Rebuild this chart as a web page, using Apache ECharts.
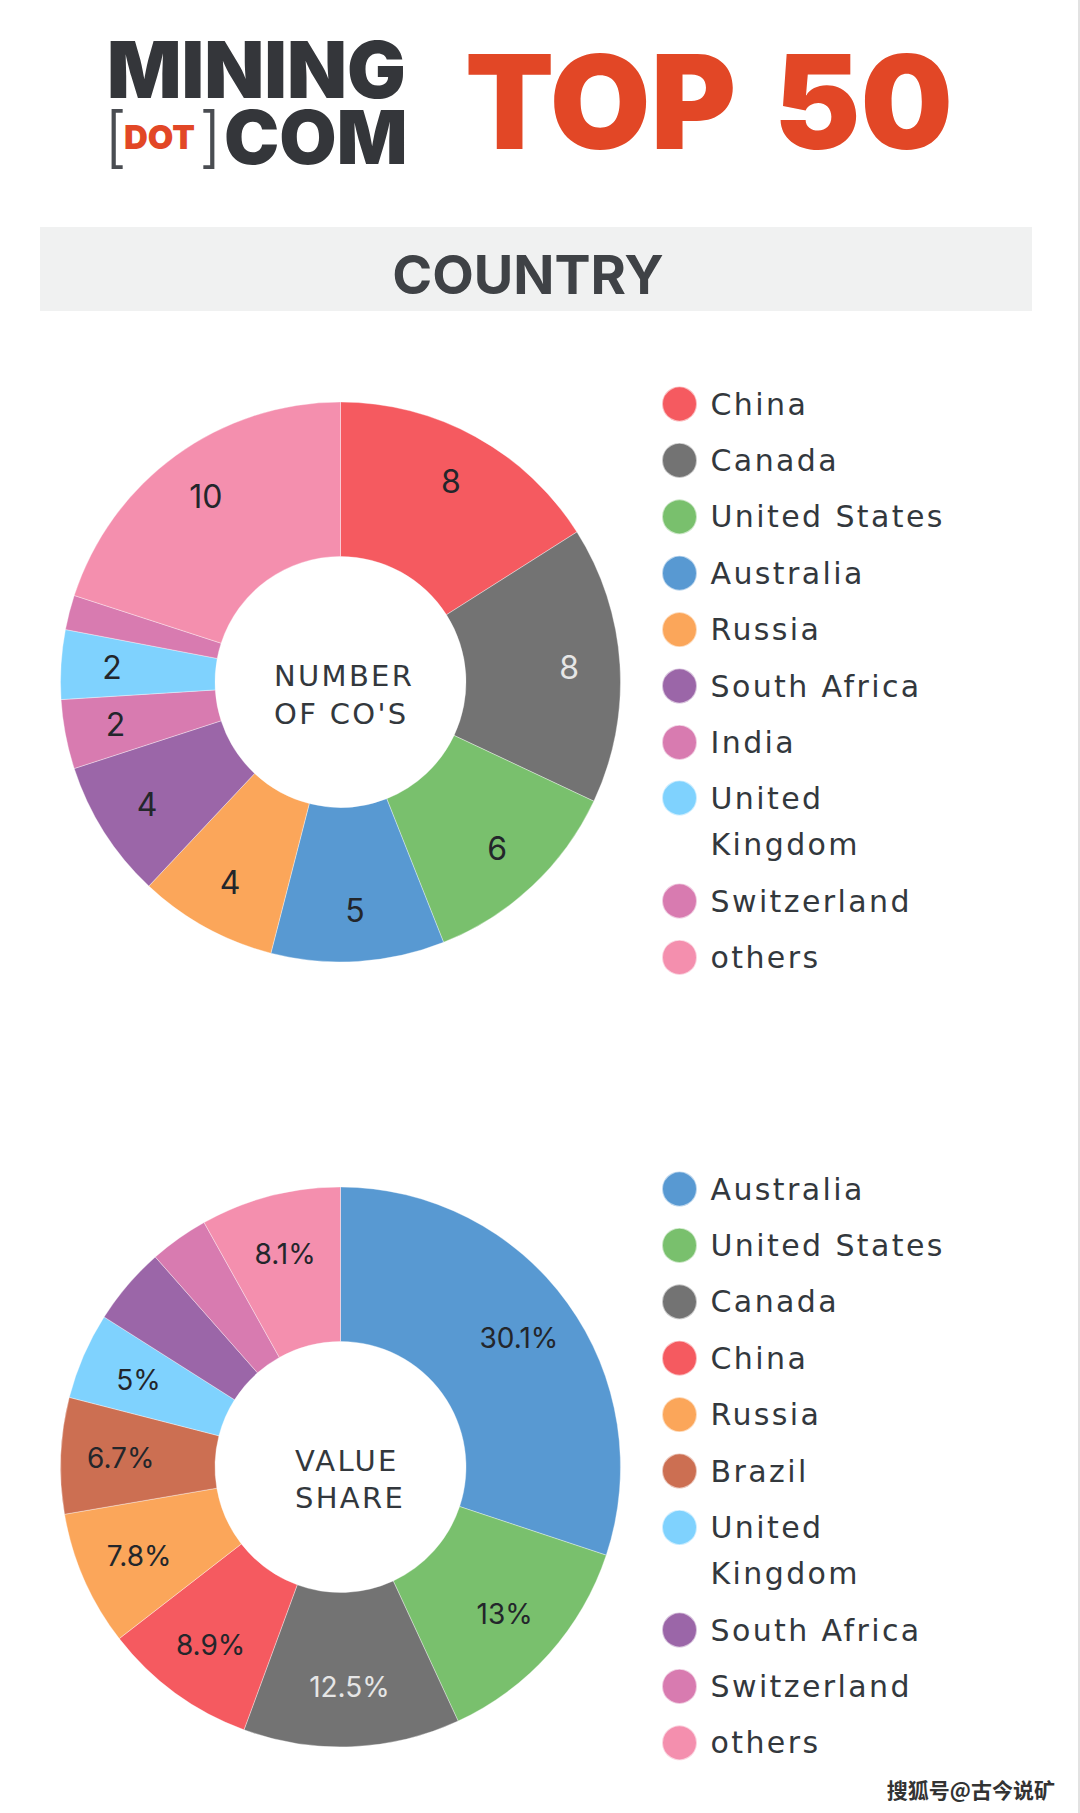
<!DOCTYPE html>
<html>
<head>
<meta charset="utf-8">
<title>Mining.com Top 50 - Country</title>
<style>
  html, body { margin: 0; padding: 0; background: #fff; }
  #chart { width: 1080px; height: 1813px; }
  /* legend and centre text are wider set than any installed font */
  #chart text[style*="DejaVu"] { letter-spacing: 0.08em; }
</style>
<script src="https://cdn.jsdelivr.net/npm/echarts@6/dist/echarts.min.js"></script>
</head>
<body>
<div id="chart"></div>
<script>
// number of companies
const countCountries = ["China", "Canada", "United States", "Australia", "Russia", "South Africa", "India", "United Kingdom", "Switzerland", "others"];
const countValues = [8, 8, 6, 5, 4, 4, 2, 2, 1, 10];
const countHidden = ["Switzerland"];
const countLegendTop = ["China", "Canada", "United States", "Australia", "Russia", "South Africa", "India"];
const countLegendBottom = ["Switzerland", "others"];

// value share, %
const shareCountries = ["Australia", "United States", "Canada", "China", "Russia", "Brazil", "United Kingdom", "South Africa", "Switzerland", "others"];
const shareValues = [30.1, 13, 12.5, 8.9, 7.8, 6.7, 5, 4.5, 3.4, 8.1];
const shareHidden = ["South Africa", "Switzerland"];
const shareLegendTop = ["Australia", "United States", "Canada", "China", "Russia", "Brazil"];
const shareLegendBottom = ["South Africa", "Switzerland", "others"];

const colors = {
  "China": "#f55a60",
  "Canada": "#737373",
  "United States": "#79c06d",
  "Australia": "#5899d2",
  "Russia": "#fba65a",
  "South Africa": "#9b66a8",
  "India": "#d87bb0",
  "United Kingdom": "#7fd2fe",
  "Switzerland": "#d87bb0",
  "others": "#f48fae",
  "Brazil": "#cc6f52"
};

const textFont = "DejaVu Sans";
const headFont = "Inter, sans-serif";
const inkColor = "#33383d";

/*the coloured ring*/
function ringSeries(names, values, center) {
  return {
    type: "pie",
    silent: true,
    startAngle: 90,
    clockwise: true,
    center: center,
    radius: [125.5, 280],
    label: {show: false},
    labelLine: {show: false},
    itemStyle: {borderColor: "rgba(255,255,255,0.6)", borderWidth: 0.6},
    data: names.map(function (name, i) {
      return {name: name, value: values[i], itemStyle: {color: colors[name]}};
    })
  };
}

/*same data on a narrower transparent ring, it only carries the labels further out*/
function labelSeries(names, values, hidden, suffix, center, innerR, fontSize) {
  return {
    type: "pie",
    silent: true,
    startAngle: 90,
    clockwise: true,
    center: center,
    radius: [innerR, 280],
    labelLine: {show: false},
    itemStyle: {color: "transparent"},
    data: names.map(function (name, i) {
      return {
        name: name,
        value: values[i],
        label: {
          show: hidden.indexOf(name) == -1,
          position: "inside",
          formatter: values[i] + suffix,
          fontFamily: headFont,
          fontSize: fontSize,
          color: name == "Canada" ? "#e6e6e6" : "#23262b"
        }
      };
    })
  };
}

function legendBlock(names, top) {
  return {
    orient: "vertical",
    left: 661,
    top: top,
    padding: 0,
    data: names,
    icon: "circle",
    selectedMode: false,
    itemWidth: 52,
    itemHeight: 35,
    itemGap: 10.4,
    textStyle: {fontFamily: textFont, fontSize: 30, lineHeight: 46, color: inkColor},
    formatter: function (name) {
      // blank first line keeps the symbol level with "United"
      return name == "United Kingdom" ? "\nUnited\nKingdom" : name;
    }
  };
}

function headText(x, y, text, size, weight, color, align) {
  return {
    type: "text",
    x: x,
    y: y,
    style: {
      text: text,
      fontFamily: headFont,
      fontSize: size,
      fontWeight: weight,
      fill: color,
      align: align || "left",
      verticalAlign: "middle"
    }
  };
}

function centerText(x, y, text) {
  return {
    type: "text",
    x: x,
    y: y,
    style: {text: text, fontFamily: textFont, fontSize: 29, fill: inkColor, align: "left", verticalAlign: "middle"}
  };
}

let myChart = echarts.init(document.getElementById("chart"), null, {renderer: "svg"});

let option = {
  animation: false,
  backgroundColor: "#ffffff",
  legend: [
    legendBlock(countLegendTop, 381),
    legendBlock(["United Kingdom"], 729),
    legendBlock(countLegendBottom, 878),
    legendBlock(shareLegendTop, 1166),
    legendBlock(["United Kingdom"], 1458.5),
    legendBlock(shareLegendBottom, 1607)
  ],
  series: [
    ringSeries(countCountries, countValues, [340.5, 682]),
    ringSeries(shareCountries, shareValues, [340.5, 1467]),
    labelSeries(countCountries, countValues, countHidden, "", [340.5, 682], 172, 32),
    labelSeries(shareCountries, shareValues, shareHidden, "%", [340.5, 1467], 154, 28)
  ],
  graphic: [
    // header
    headText(107, 69, "MINING", 78, 900, "#34363a"),
    headText(224, 137, "COM", 74, 900, "#34363a"),
    headText(104, 136, "[", 66, 300, "#4a4d52"),
    headText(199, 136, "]", 66, 300, "#4a4d52"),
    headText(124, 137, "DOT", 33, 900, "#e24726"),
    headText(465, 101, "TOP", 130, 900, "#e24726"),
    headText(953, 101, "50", 130, 900, "#e24726", "right"),
    // band
    {type: "rect", shape: {x: 40, y: 227, width: 992, height: 84}, style: {fill: "#f0f1f1"}},
    headText(528, 274, "COUNTRY", 54, 700, "#3f4246", "center"),
    // ring centres
    centerText(274, 676, "NUMBER"),
    centerText(274, 714, "OF CO'S"),
    centerText(295, 1461, "VALUE"),
    centerText(295, 1498, "SHARE"),
    // watermark, page edge
    {
      type: "text",
      x: 1055,
      y: 1789,
      style: {
        text: "搜狐号@古今说矿",
        fontFamily: "Noto Sans CJK SC",
        fontSize: 21,
        fontWeight: 700,
        fill: "#333333",
        align: "right",
        verticalAlign: "middle"
      }
    },
    {type: "rect", shape: {x: 1078, y: 0, width: 2, height: 1813}, style: {fill: "#e2e2e2"}}
  ]
};

myChart.setOption(option);
</script>
</body>
</html>
